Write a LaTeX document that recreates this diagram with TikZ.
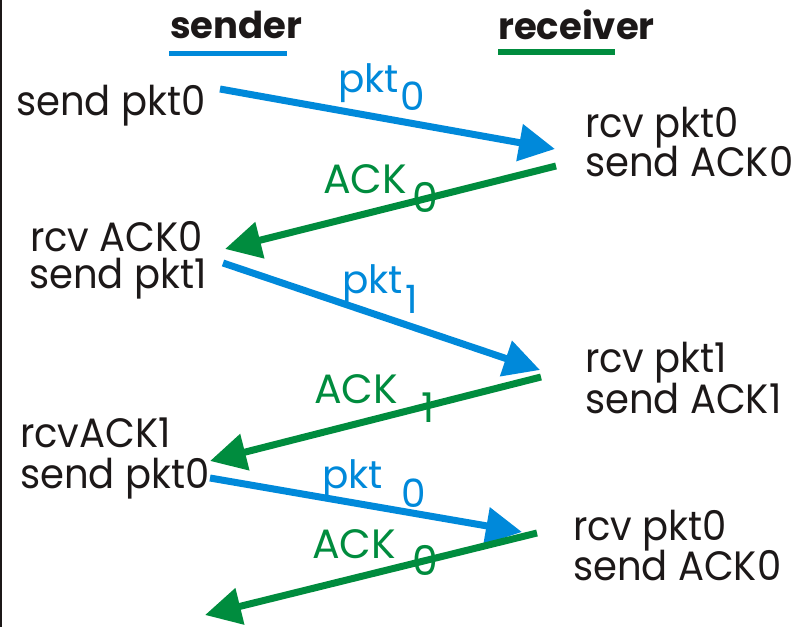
\documentclass[tikz,border=0pt]{standalone}
\usepackage{fontspec}
\setmainfont{Poppins}[FakeStretch=0.94]
\newfontfamily\plainpop{Poppins}
\usetikzlibrary{arrows.meta}
\definecolor{pblue}{RGB}{0,137,218}
\definecolor{pgreen}{RGB}{0,140,62}
\definecolor{ink}{RGB}{28,24,24}
\tikzset{
  txt/.style={inner sep=0pt, anchor=base west, text=ink, font=\fontsize{41}{41}\selectfont},
  hdr/.style={inner sep=0pt, anchor=base west, text=ink, font=\plainpop\fontsize{37}{37}\selectfont\bfseries},
  lblb/.style={inner sep=0pt, anchor=base west, text=pblue, font=\plainpop\fontsize{39}{39}\selectfont},
  lblg/.style={inner sep=0pt, anchor=base west, text=pgreen, font=\plainpop\fontsize{41}{41}\selectfont},
  pktarrow/.style={draw=pblue, line width=7pt, -{Triangle[length=36pt,width=36pt]}},
  ackarrow/.style={draw=pgreen, line width=7pt, -{Triangle[length=36pt,width=36pt]}},
}
\begin{document}
\begin{tikzpicture}[x=1pt,y=-1pt]
\useasboundingbox (0,0) rectangle (798,627);
\fill[white] (0,0) rectangle (798,627);
\draw[line width=2pt, ink] (1,0) -- (1,627);
% headers
\node[hdr] (snd) at (170,38) {sender};
\node[hdr] (rcv) at (498,39) {receiver};
\draw[pblue, line width=5pt] (169,53) -- (287,53);
\draw[pgreen, line width=6pt] (498,52) -- (615,52);
% sender / receiver texts
\node[txt] (t1) at (16,115) {send pkt0};
\node[txt] (r1a) at (585,137) {rcv pkt0};
\node[txt] (r1b) at (585,176) {send ACK0};
\node[txt] (t2a) at (30,251) {rcv ACK0};
\node[txt] (t2b) at (29,288) {send pkt1};
\node[txt] (r2a) at (585,372) {rcv pkt1};
\node[txt] (r2b) at (585,413) {send ACK1};
\node[txt] (t3a) at (20,447) {rcvACK1};
\node[txt] (t3b) at (20,488) {send pkt0};
\node[txt] (r3a) at (573,540) {rcv pkt0};
\node[txt] (r3b) at (573,580) {send ACK0};
% labels
\node[lblb] (l1) at (338,92) {pkt};
\node[lblb] (l1s) at (400,110) {0};
\node[lblg] (l2) at (323,193) {ACK};
\node[lblg] (l2s) at (412,212) {0};
\node[lblb] (l3) at (342,293) {pkt};
\node[lblb] (l3s) at (405,313) {1};
\node[lblg] (l4) at (314,403) {ACK};
\node[lblg] (l4s) at (421,422) {1};
\node[lblb] (l5) at (322,488) {pkt};
\node[lblb] (l5s) at (401,507) {0};
\node[lblg] (l6) at (312,558) {ACK};
\node[lblg] (l6s) at (412,575) {0};
% arrow end points
\coordinate (a1s) at (220,89);  \coordinate (a1e) at (555,149);
\coordinate (a2s) at (556,166); \coordinate (a2e) at (225,249);
\coordinate (a3s) at (223,263); \coordinate (a3e) at (540,370);
\coordinate (a4s) at (541,377); \coordinate (a4e) at (210,461);
\coordinate (a5s) at (210,478); \coordinate (a5e) at (522,532);
\coordinate (a6s) at (537,533); \coordinate (a6e) at (205,615);
\draw[pktarrow] (a1s) -- (a1e);
\draw[ackarrow] (a2s) -- (a2e);
\draw[pktarrow] (a3s) -- (a3e);
\draw[ackarrow] (a4s) -- (a4e);
\draw[pktarrow] (a5s) -- (a5e);
\draw[ackarrow] (a6s) -- (a6e);
\end{tikzpicture}
\end{document}
